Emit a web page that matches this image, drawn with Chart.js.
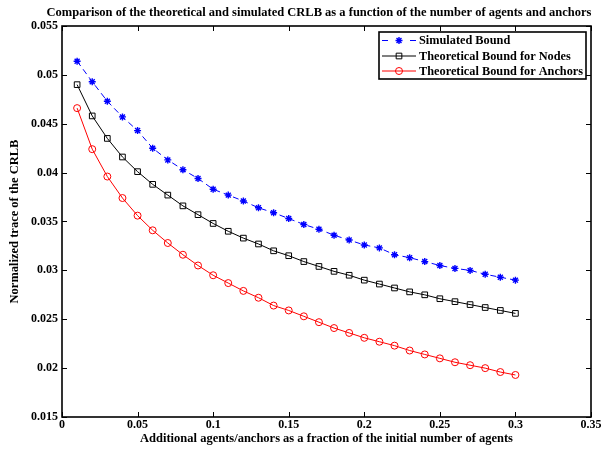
<!DOCTYPE html>
<html>
<head>
<meta charset="utf-8">
<script src="https://cdn.jsdelivr.net/npm/chart.js@4"></script>
<style>
  html, body { margin: 0; padding: 0; background: #fff; }
  #wrap { width: 604px; height: 449px; }
</style>
</head>
<body>
<div id="wrap"><canvas id="crlbChart" width="604" height="449"></canvas></div>
<script>
const fractions = [0.01, 0.02, 0.03, 0.04, 0.05, 0.06, 0.07, 0.08, 0.09, 0.10,
  0.11, 0.12, 0.13, 0.14, 0.15, 0.16, 0.17, 0.18, 0.19, 0.20,
  0.21, 0.22, 0.23, 0.24, 0.25, 0.26, 0.27, 0.28, 0.29, 0.30];

const simulatedBound = [0.0514, 0.0493, 0.0473, 0.0457, 0.0443, 0.0425, 0.0413, 0.0403, 0.0394, 0.0383,
  0.0377, 0.0371, 0.0364, 0.0359, 0.0353, 0.0347, 0.0342, 0.0336, 0.0331, 0.0326,
  0.0323, 0.0316, 0.0313, 0.0309, 0.0305, 0.0302, 0.0300, 0.0296, 0.0293, 0.0290];

const nodesBound = [0.0490, 0.0458, 0.0435, 0.0416, 0.0401, 0.0388, 0.0377, 0.0366, 0.0357, 0.0348,
  0.0340, 0.0333, 0.0327, 0.0320, 0.0315, 0.0309, 0.0304, 0.0299, 0.0295, 0.0290,
  0.0286, 0.0282, 0.0278, 0.0275, 0.0271, 0.0268, 0.0265, 0.0262, 0.0259, 0.0256];

const anchorsBound = [0.0466, 0.0424, 0.0396, 0.0374, 0.0356, 0.0341, 0.0328, 0.0316, 0.0305, 0.0295,
  0.0287, 0.0279, 0.0272, 0.0264, 0.0259, 0.0253, 0.0247, 0.0241, 0.0236, 0.0231,
  0.0227, 0.0223, 0.0218, 0.0214, 0.0210, 0.0206, 0.0203, 0.0200, 0.0196, 0.0193];

const seriesLabels = ["Simulated Bound", "Theoretical Bound for Nodes", "Theoretical Bound for Anchors"];
const xTicks = [0, 0.05, 0.1, 0.15, 0.2, 0.25, 0.3, 0.35];
const yTicks = [0.015, 0.02, 0.025, 0.03, 0.035, 0.04, 0.045, 0.05, 0.055];

const chartTitle = "Comparison of the theoretical and simulated CRLB as a function of the number of agents and anchors";
const xTitle = "Additional agents/anchors as a fraction of the initial number of agents";
const yTitle = "Normalized trace of the CRLB";

const FONT = "'Liberation Serif', 'Times New Roman', serif";

function toPoints(values) {
  return fractions.map((x, i) => ({ x, y: values[i] }));
}

function fmt(v) {
  return String(Number(v.toFixed(4)));
}

// MATLAB-like box, inner ticks, title and legend
const matlabFrame = {
  id: "matlabFrame",
  afterDraw(chart) {
    const { ctx, chartArea: a, scales } = chart;
    const tl = 5;
    ctx.save();
    ctx.strokeStyle = "#000";
    ctx.lineWidth = 1;
    ctx.beginPath();
    xTicks.forEach(v => {
      const px = Math.round(scales.x.getPixelForValue(v)) + 0.5;
      ctx.moveTo(px, a.bottom); ctx.lineTo(px, a.bottom - tl);
      ctx.moveTo(px, a.top); ctx.lineTo(px, a.top + tl);
    });
    yTicks.forEach(v => {
      const py = Math.round(scales.y.getPixelForValue(v)) + 0.5;
      ctx.moveTo(a.left, py); ctx.lineTo(a.left + tl, py);
      ctx.moveTo(a.right, py); ctx.lineTo(a.right - tl, py);
    });
    ctx.stroke();

    ctx.lineWidth = 1.6;
    ctx.strokeRect(a.left, a.top, a.right - a.left, a.bottom - a.top);

    // title
    ctx.fillStyle = "#000";
    ctx.font = "bold 12.5px " + FONT;
    ctx.textAlign = "center";
    ctx.textBaseline = "middle";
    ctx.fillText(chartTitle, 319, 13);

    // legend
    const lx = 379, ly = 32, lw = 207, lh = 47;
    ctx.fillStyle = "#fff";
    ctx.fillRect(lx, ly, lw, lh);
    ctx.lineWidth = 1.6;
    ctx.strokeStyle = "#000";
    ctx.strokeRect(lx, ly, lw, lh);
    const rows = [40.5, 56, 71];
    chart.data.datasets.forEach((ds, i) => {
      const y = rows[i];
      ctx.save();
      ctx.strokeStyle = ds.borderColor;
      ctx.fillStyle = "rgba(0,0,0,0)";
      ctx.lineWidth = 1;
      ctx.beginPath();
      if (ds.borderDash) {
        ctx.moveTo(382, y); ctx.lineTo(388, y);
        ctx.moveTo(410, y); ctx.lineTo(416, y);
      } else {
        ctx.moveTo(382, y); ctx.lineTo(416, y);
      }
      ctx.stroke();
      ctx.lineWidth = ds.pointBorderWidth;
      Chart.helpers.drawPoint(ctx, {
        pointStyle: ds.pointStyle,
        radius: ds.pointRadius,
        borderWidth: ds.pointBorderWidth,
        rotation: 0
      }, 399, y);
      ctx.restore();
      ctx.fillStyle = "#000";
      ctx.font = "bold 12.3px " + FONT;
      ctx.textAlign = "left";
      ctx.fillText(ds.label, 419, y + 0.5);
    });
    ctx.restore();
  }
};

const ctx = document.getElementById("crlbChart").getContext("2d");

new Chart(ctx, {
  type: "line",
  data: {
    datasets: [
      {
        label: seriesLabels[0],
        data: toPoints(simulatedBound),
        borderColor: "#0000ff",
        backgroundColor: "#0000ff",
        borderWidth: 1,
        borderDash: [6, 4],
        pointStyle: "star",
        pointRadius: 3.5,
        pointBorderWidth: 1.4,
        tension: 0
      },
      {
        label: seriesLabels[1],
        data: toPoints(nodesBound),
        borderColor: "#000000",
        backgroundColor: "rgba(0,0,0,0)",
        borderWidth: 1,
        pointStyle: "rect",
        pointRadius: 4,
        pointBorderWidth: 1,
        tension: 0
      },
      {
        label: seriesLabels[2],
        data: toPoints(anchorsBound),
        borderColor: "#ff0000",
        backgroundColor: "rgba(0,0,0,0)",
        borderWidth: 1,
        pointStyle: "circle",
        pointRadius: 3.5,
        pointBorderWidth: 1,
        tension: 0
      }
    ]
  },
  options: {
    responsive: false,
    animation: false,
    layout: { padding: { top: 26, right: 13, left: 0, bottom: 0 } },
    plugins: {
      legend: { display: false },
      title: { display: false },
      tooltip: { enabled: false }
    },
    scales: {
      x: {
        type: "linear",
        min: 0,
        max: 0.35,
        afterBuildTicks: scale => { scale.ticks = xTicks.map(v => ({ value: v })); },
        afterFit: scale => { scale.height = 32; },
        grid: { display: false, drawTicks: false },
        border: { display: false },
        ticks: {
          color: "#000",
          padding: 1,
          maxRotation: 0,
          font: { family: FONT, size: 12, weight: "bold" },
          callback: v => fmt(v)
        },
        title: {
          display: true,
          text: xTitle,
          color: "#000",
          padding: { top: 0, bottom: 3 },
          font: { family: FONT, size: 12.5, weight: "bold" }
        }
      },
      y: {
        type: "linear",
        min: 0.015,
        max: 0.055,
        afterBuildTicks: scale => { scale.ticks = yTicks.map(v => ({ value: v })); },
        afterFit: scale => { scale.width = 62; },
        grid: { display: false, drawTicks: false },
        border: { display: false },
        ticks: {
          color: "#000",
          padding: 4,
          font: { family: FONT, size: 12, weight: "bold" },
          callback: v => fmt(v)
        },
        title: {
          display: true,
          text: yTitle,
          color: "#000",
          padding: { top: 7, bottom: 0 },
          font: { family: FONT, size: 12.5, weight: "bold" }
        }
      }
    }
  },
  plugins: [matlabFrame]
});
</script>
</body>
</html>
